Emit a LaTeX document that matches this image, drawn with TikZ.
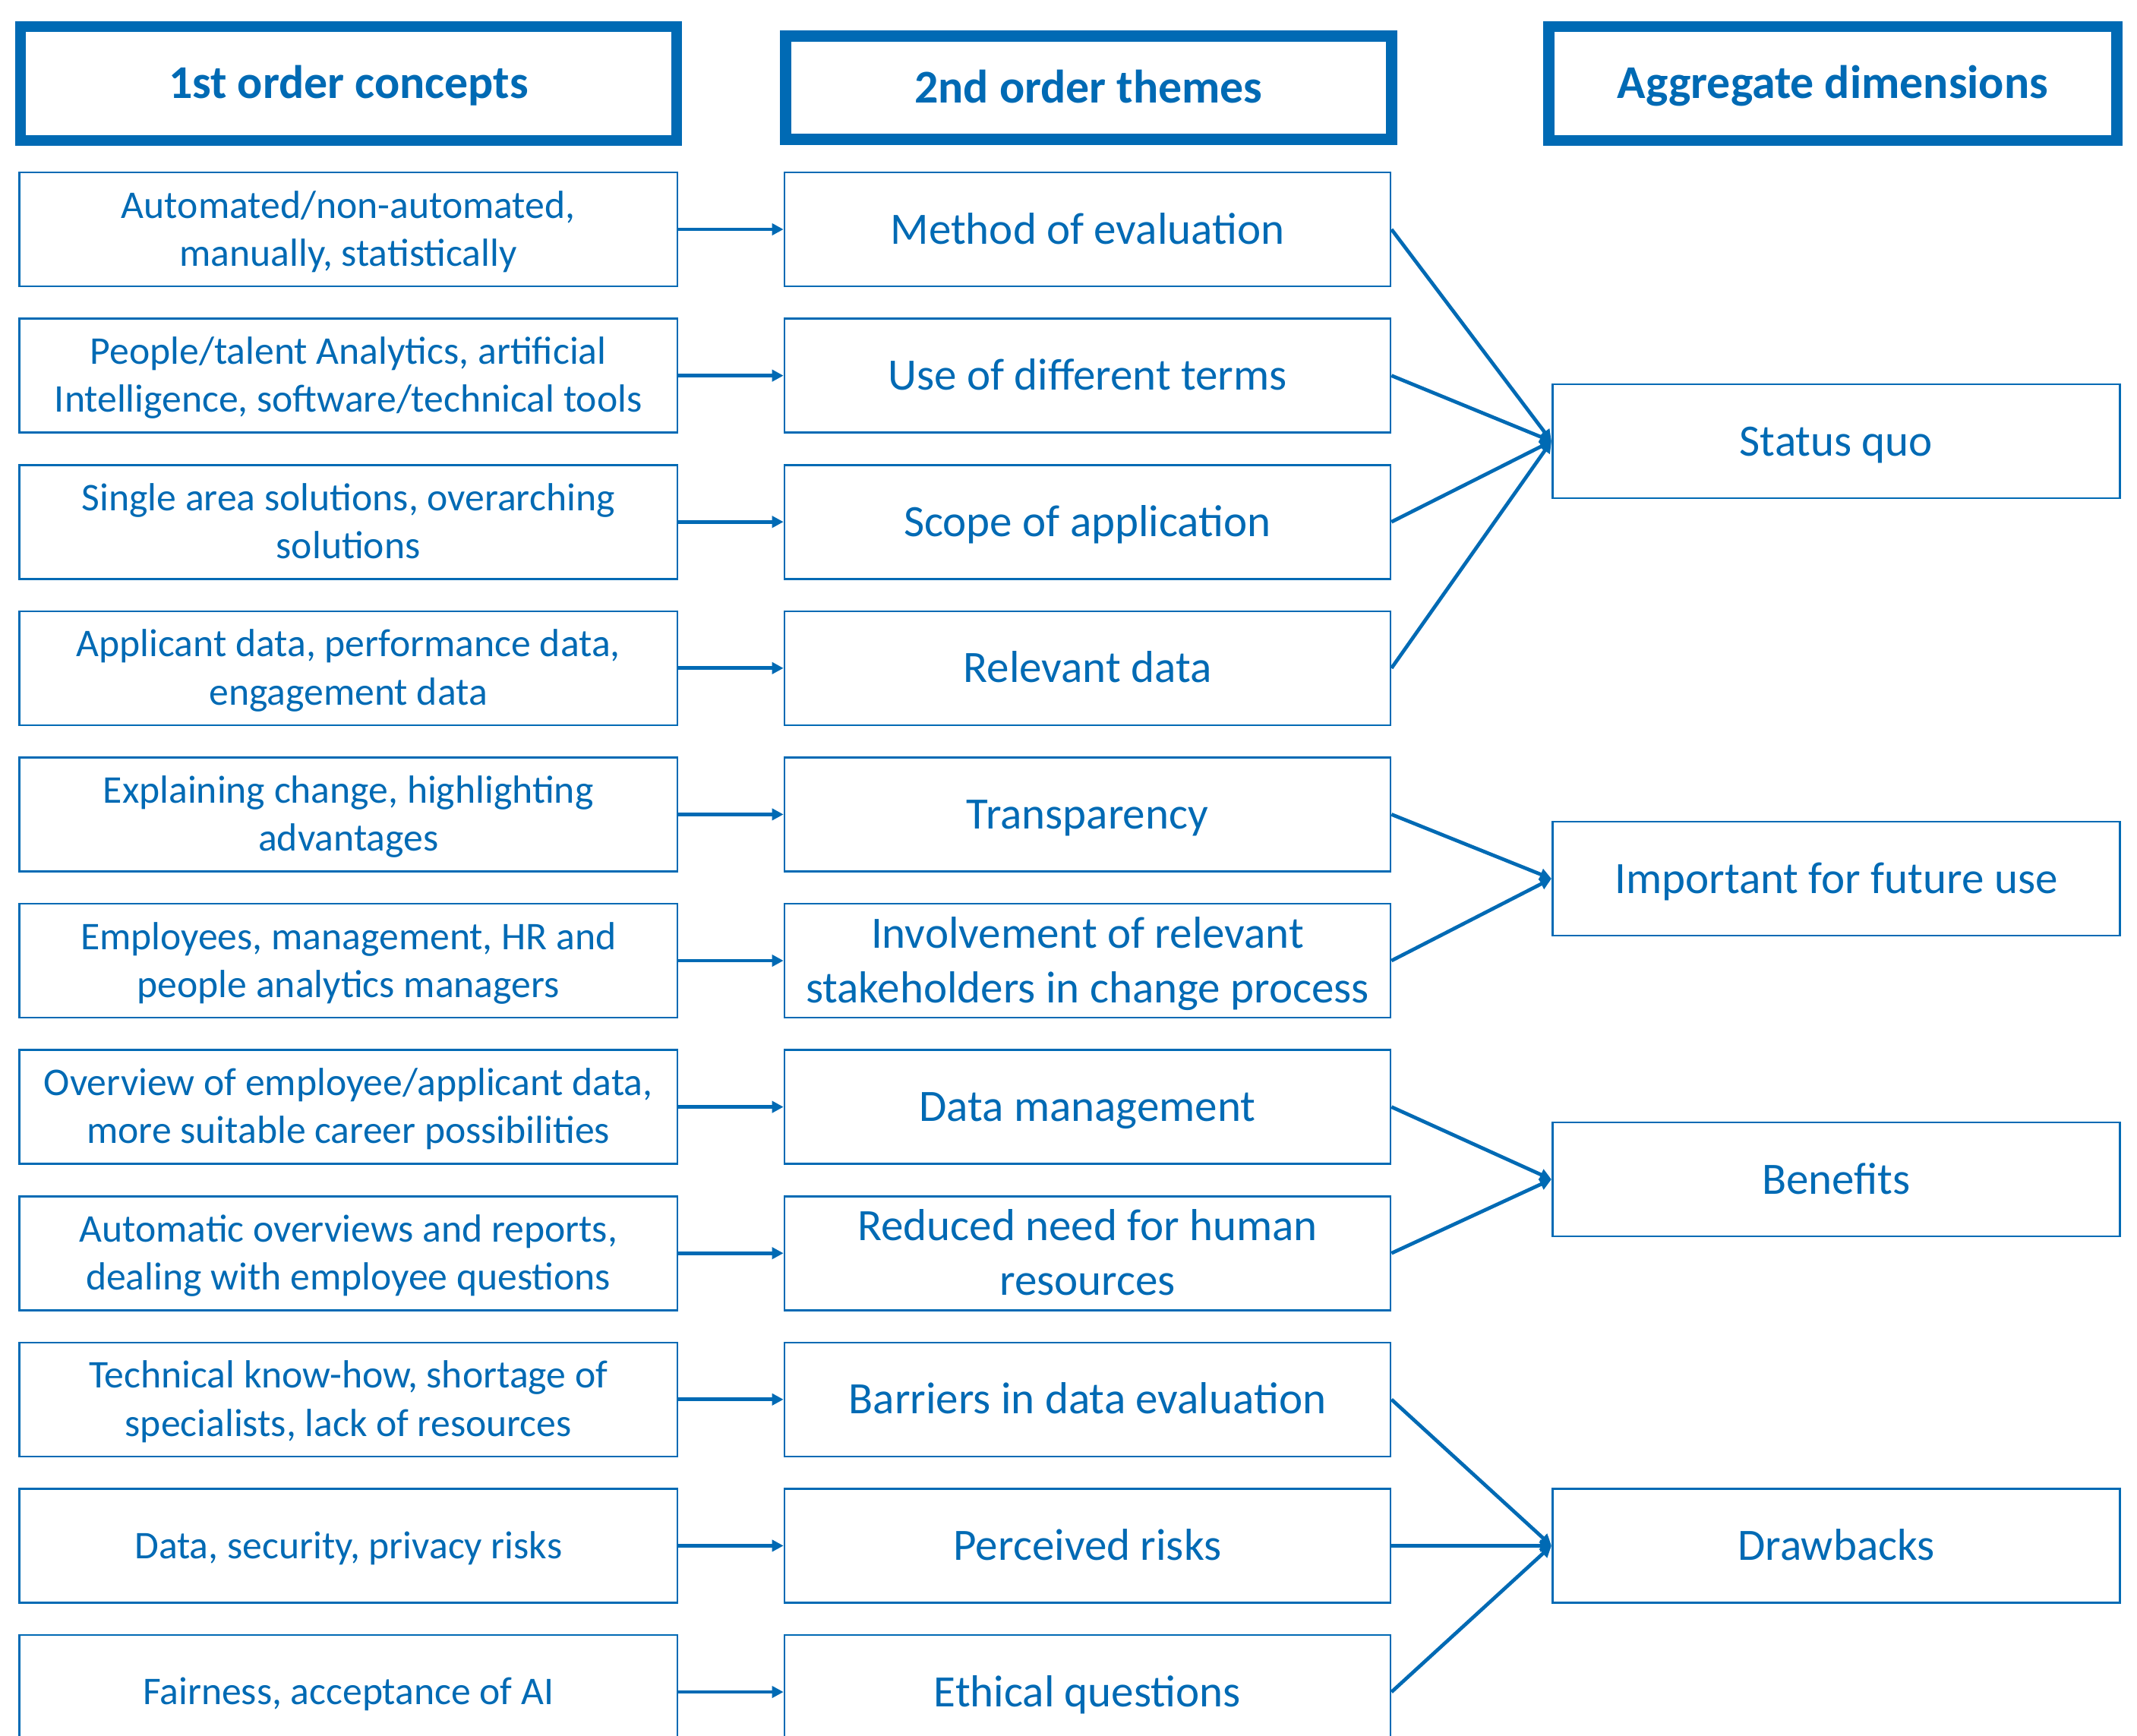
\documentclass[tikz,border=0pt]{standalone}
\usepackage{fontspec}
\setmainfont{Carlito}
\usepackage{tikz}
\usetikzlibrary{arrows.meta,positioning}
\definecolor{uniblue}{RGB}{0,106,180}
\newcommand{\hdrfont}{\fontsize{17.6}{21}\selectfont\bfseries}
\newcommand{\conceptfont}{\fontsize{14.7}{18}\selectfont}
\newcommand{\themefont}{\fontsize{16.8}{20.5}\selectfont}
\tikzset{
  % same height/depth on first and last line, so caps sit on the box centre
  struts/.style={execute at begin node={\rule{0pt}{0.944em}},
    execute at end node={\rule[-0.3em]{0pt}{0.3em}}},
  hdr/.style={draw=uniblue, line width=4.25pt, text=uniblue, font=\hdrfont,
    inner sep=0pt, minimum height=1.5cm, struts},
  concept/.style={draw=uniblue, line width=0.75pt, text=uniblue, font=\conceptfont,
    align=flush center, text width=8.4cm, inner sep=0pt, minimum width=8.665cm,
    minimum height=1.5cm, struts},
  theme/.style={concept, font=\themefont, text width=7.8cm, minimum width=7.98cm},
  dimbox/.style={concept, font=\themefont, text width=7.3cm, minimum width=7.475cm},
  link/.style={uniblue, line width=1.35pt, -{Triangle[length=4.3pt,width=4.3pt]}},
}

\begin{document}
\begin{tikzpicture}
\useasboundingbox (0,0) rectangle (28.14,-22.85);
\clip (0,0) rectangle (28.14,-22.85);

% column headings
\node[hdr, minimum width=8.64cm] (h1) at (4.59,-1.10) {1st order concepts};
\node[hdr, minimum width=7.98cm, minimum height=1.36cm] (h2) at (14.335,-1.155) {2nd order themes};
\node[hdr, minimum width=7.48cm] (h3) at (24.135,-1.10) {Aggregate dimensions};

% 1st order concepts
\node[concept] (c1) at (4.587,-3.02) {Automated/non-automated,\\manually, statistically};
\node[concept] (c2) at (4.587,-4.946) {People/talent Analytics, artificial\\Intelligence, software/technical tools};
\node[concept] (c3) at (4.587,-6.872) {Single area solutions, overarching\\solutions};
\node[concept] (c4) at (4.587,-8.798) {Applicant data, performance data,\\engagement data};
\node[concept] (c5) at (4.587,-10.724) {Explaining change, highlighting\\advantages};
\node[concept] (c6) at (4.587,-12.65) {Employees, management, HR and\\people analytics managers};
\node[concept] (c7) at (4.587,-14.576) {Overview of employee/applicant data,\\more suitable career possibilities};
\node[concept] (c8) at (4.587,-16.502) {Automatic overviews and reports,\\dealing with employee questions};
\node[concept] (c9) at (4.587,-18.428) {Technical know-how, shortage of\\specialists, lack of resources};
\node[concept] (c10) at (4.587,-20.354) {Data, security, privacy risks};
\node[concept] (c11) at (4.587,-22.28) {Fairness, acceptance of AI};

% 2nd order themes
\node[theme] (t1) at (14.32,-3.02) {Method of evaluation};
\node[theme] (t2) at (14.32,-4.946) {Use of different terms};
\node[theme] (t3) at (14.32,-6.872) {Scope of application};
\node[theme] (t4) at (14.32,-8.798) {Relevant data};
\node[theme] (t5) at (14.32,-10.724) {Transparency};
\node[theme] (t6) at (14.32,-12.65) {Involvement of relevant\\stakeholders in change process};
\node[theme] (t7) at (14.32,-14.576) {Data management};
\node[theme] (t8) at (14.32,-16.502) {Reduced need for human\\resources};
\node[theme] (t9) at (14.32,-18.428) {Barriers in data evaluation};
\node[theme] (t10) at (14.32,-20.354) {Perceived risks};
\node[theme] (t11) at (14.32,-22.28) {Ethical questions};

% aggregate dimensions
\node[dimbox] (d1) at (24.18,-5.81) {Status quo};
\node[dimbox] (d2) at (24.18,-11.57) {Important for future use};
\node[dimbox] (d3) at (24.18,-15.53) {Benefits};
\node[dimbox] (d4) at (24.18,-20.354) {Drawbacks};

\foreach \i in {1,...,11}
  \draw[link] (c\i) -- (t\i);

\foreach \i in {1,...,4}
  \draw[link] (t\i.east) -- (d1.west);
\foreach \i in {5,6}
  \draw[link] (t\i.east) -- (d2.west);
\foreach \i in {7,8}
  \draw[link] (t\i.east) -- (d3.west);
\foreach \i in {9,10,11}
  \draw[link] (t\i.east) -- (d4.west);
\end{tikzpicture}
\end{document}
